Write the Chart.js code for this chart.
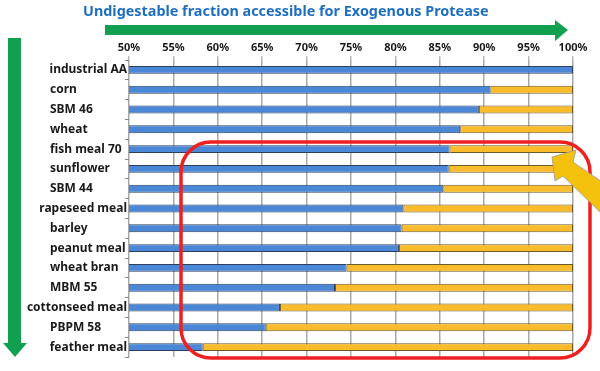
<!DOCTYPE html>
<html lang="en">
<head>
<meta charset="UTF-8">
<title>Undigestable fraction accessible for Exogenous Protease</title>
<style>
  body {
    margin: 0;
    background: #fff;
  }
  #wrap {
    position: relative;
    width: 600px;
    height: 371px;
    overflow: hidden;
  }
  #title {
    position: absolute;
    left: 83px;
    top: 1px;
    font-family: "Noto Sans", sans-serif;
    font-weight: 700;
    font-size: 14.4px;
    color: #1f6fbf;
    white-space: nowrap;
  }
  #deco {
    position: absolute;
    left: 0;
    top: 0;
    pointer-events: none;
  }
</style>
<script src="https://cdn.jsdelivr.net/npm/chart.js"></script>
</head>
<body>
<div id="wrap">
  <canvas id="chart" width="600" height="371"></canvas>
  <div id="title">Undigestable fraction accessible for Exogenous Protease</div>
  <!-- arrows and highlight box drawn over the chart -->
  <svg id="deco" width="600" height="371">
    <rect x="105" y="25" width="451" height="10" fill="#11a04f"/>
    <polygon points="555,20 568,30 555,41" fill="#11a04f"/>
    <rect x="8" y="38" width="13" height="306" fill="#11a04f"/>
    <polygon points="3,343 27,343 15,357" fill="#11a04f"/>
    <rect x="181" y="142" width="409" height="216" rx="30" ry="30" fill="none" stroke="#ee2020" stroke-width="3.5"/>
    <polygon points="552,157 576,150 573,162 608,186 602,214 563,176 555,181" fill="#f4c20d" stroke="#9a9a9a" stroke-width="0.8"/>
  </svg>
</div>

<script>
const categories = ['industrial AA', 'corn', 'SBM 46', 'wheat', 'fish meal 70', 'sunflower', 'SBM 44',
  'rapeseed meal', 'barley', 'peanut meal', 'wheat bran', 'MBM 55', 'cottonseed meal', 'PBPM 58', 'feather meal'];
// blue part (digested, %)
const digested = [100, 90.7, 89.4, 87.3, 86.1, 86.0, 85.4, 80.9, 80.7, 80.4, 74.5, 73.2, 67.0, 65.4, 58.3];
// orange part (undigested fraction, %)
const undigested = [0, 9.3, 10.6, 12.7, 13.9, 14.0, 14.6, 19.1, 19.3, 19.6, 25.5, 26.8, 33.0, 34.6, 41.7];
const xTicks = [50, 55, 60, 65, 70, 75, 80, 85, 90, 95, 100];

// category labels drawn by hand: left at 50px unless too long for the axis
const yLabels = {
  id: 'yLabels',
  afterDraw(chart) {
    const ctx = chart.ctx;
    const y = chart.scales.y;
    ctx.save();
    ctx.font = 'bold 12px "Noto Sans", sans-serif';
    ctx.fillStyle = '#1a1a1a';
    ctx.textBaseline = 'middle';
    categories.forEach((c, i) => {
      const w = ctx.measureText(c).width;
      const x = Math.min(50, y.right - 2 - w);
      ctx.fillText(c, x, y.getPixelForTick(i));
    });
    ctx.restore();
  }
};

const ctx = document.getElementById('chart').getContext('2d');
new Chart(ctx, {
  type: 'bar',
  data: {
    labels: categories,
    datasets: [{
      label: 'digested',
      data: digested,
      backgroundColor: '#4a87d6',
      borderColor: '#2d3f5c',
      borderWidth: 1,
      borderSkipped: false
    }, {
      label: 'undigested',
      data: undigested,
      backgroundColor: '#fbbc2c',
      borderColor: '#6b5a2c',
      borderWidth: 1,
      borderSkipped: false
    }]
  },
  options: {
    indexAxis: 'y',
    responsive: false,
    animation: false,
    layout: { padding: { left: 0, right: 27, top: 0, bottom: 14 } },
    datasets: { bar: { categoryPercentage: 1, barPercentage: 0.4 } },
    plugins: {
      legend: { display: false },
      tooltip: { enabled: false }
    },
    scales: {
      x: {
        position: 'top',
        stacked: true,
        min: 50,
        max: 100,
        afterBuildTicks: s => { s.ticks = xTicks.map(v => ({ value: v })); },
        afterFit: s => { s.height = 60; },
        border: { display: false },
        grid: { color: '#a8a8a8', lineWidth: 1.5, tickLength: 4, tickColor: '#bbb' },
        ticks: {
          padding: 2,
          maxRotation: 0,
          autoSkip: false,
          color: '#1a1a1a',
          font: { family: '"Noto Sans", sans-serif', weight: 'bold', size: 11 },
          callback: v => v + '%'
        }
      },
      y: {
        stacked: true,
        afterFit: s => { s.width = 129; },
        border: { display: false },
        grid: { drawOnChartArea: false, tickLength: 4, color: '#888' },
        ticks: { display: false }
      }
    }
  },
  plugins: [yLabels]
});
</script>
</body>
</html>
